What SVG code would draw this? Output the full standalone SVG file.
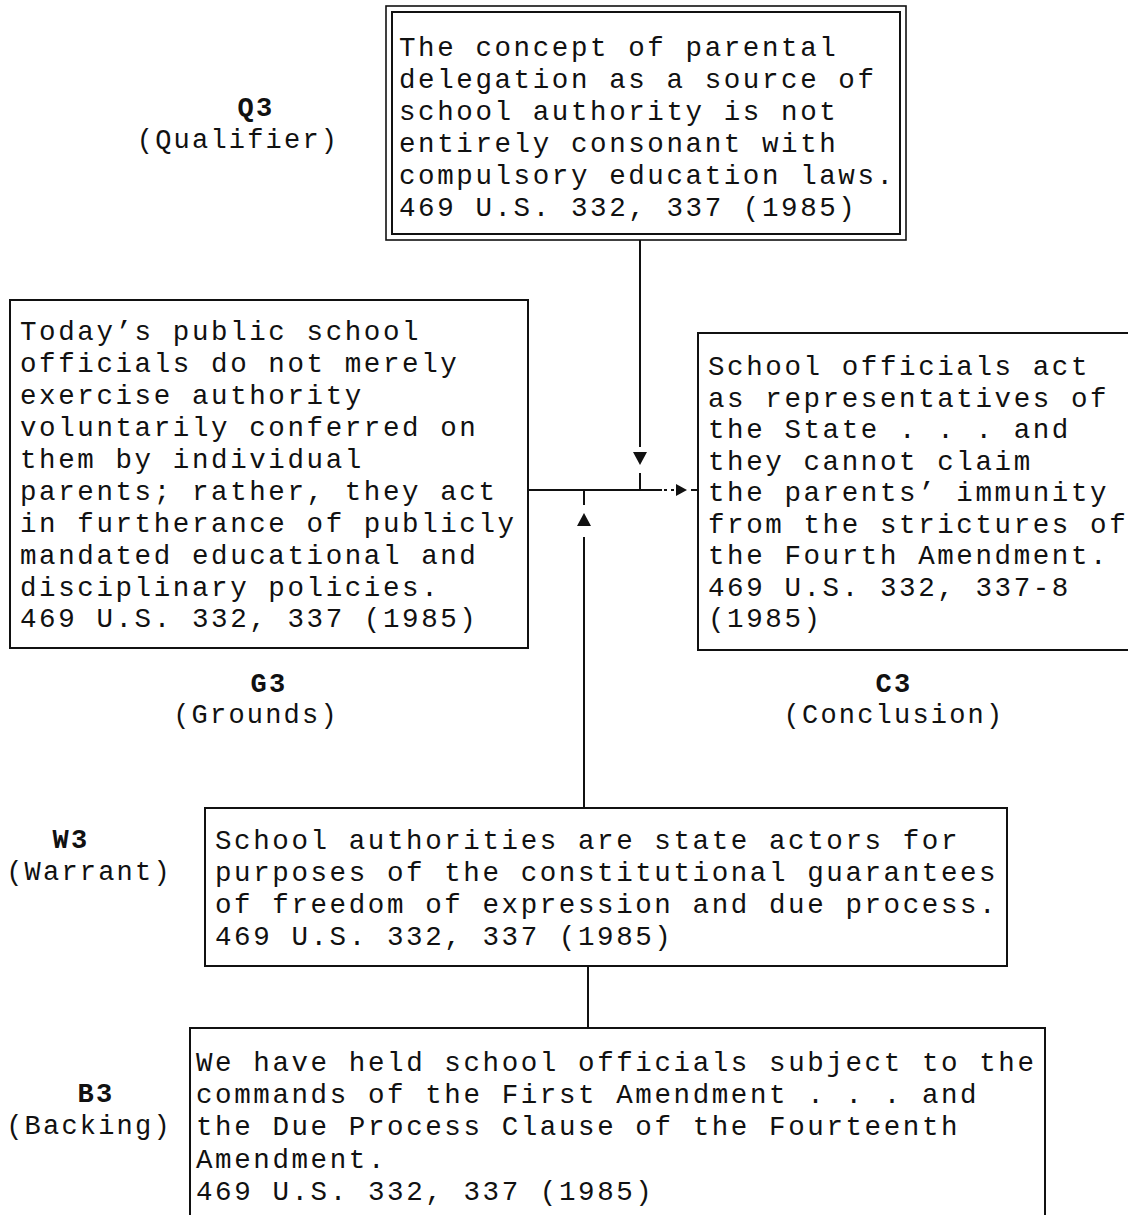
<svg xmlns="http://www.w3.org/2000/svg" width="1128" height="1215" viewBox="0 0 1128 1215">
  <style>
    .box { fill: #fff; stroke: #111; stroke-width: 2; }
    .box2 { fill: none; stroke: #111; stroke-width: 1.6; }
    .t { font-family: "Liberation Mono", "DejaVu Sans Mono", monospace; font-size: 27.5px; letter-spacing: 2.6px; fill: #111; }
    .lbl { font-family: "Liberation Mono", "DejaVu Sans Mono", monospace; font-size: 27px; letter-spacing: 2.2px; fill: #111; text-anchor: middle; }
    .b { font-weight: bold; }
    .ln { stroke: #111; stroke-width: 2; fill: none; }
    .dot { stroke: #111; stroke-width: 2; fill: none; stroke-dasharray: 3 4; }
    .ah { fill: #111; }
  </style>

  <!-- Qualifier -->
  <g id="q3">
    <rect class="box2" x="386" y="6" width="520" height="234"/>
    <rect class="box" x="392" y="12" width="508" height="222"/>
    <text class="t">
      <tspan x="399" y="56">The concept of parental</tspan>
      <tspan x="399" y="88">delegation as a source of</tspan>
      <tspan x="399" y="120">school authority is not</tspan>
      <tspan x="399" y="152">entirely consonant with</tspan>
      <tspan x="399" y="184">compulsory education laws.</tspan>
      <tspan x="399" y="216">469 U.S. 332, 337 (1985)</tspan>
    </text>
    <text class="lbl b" x="256" y="116">Q3</text>
    <text class="lbl" x="238" y="148">(Qualifier)</text>
  </g>

  <!-- Grounds -->
  <g id="g3">
    <rect class="box" x="10" y="300" width="518" height="348"/>
    <text class="t">
      <tspan x="20" y="340">Today’s public school</tspan>
      <tspan x="20" y="372">officials do not merely</tspan>
      <tspan x="20" y="404">exercise authority</tspan>
      <tspan x="20" y="436">voluntarily conferred on</tspan>
      <tspan x="20" y="468">them by individual</tspan>
      <tspan x="20" y="500">parents; rather, they act</tspan>
      <tspan x="20" y="532">in furtherance of publicly</tspan>
      <tspan x="20" y="564">mandated educational and</tspan>
      <tspan x="20" y="596">disciplinary policies.</tspan>
      <tspan x="20" y="627">469 U.S. 332, 337 (1985)</tspan>
    </text>
    <text class="lbl b" x="269" y="692">G3</text>
    <text class="lbl" x="256" y="723">(Grounds)</text>
  </g>

  <!-- Conclusion -->
  <g id="c3">
    <rect class="box" x="698" y="333" width="440" height="317"/>
    <text class="t">
      <tspan x="708" y="375">School officials act</tspan>
      <tspan x="708" y="407">as representatives of</tspan>
      <tspan x="708" y="438">the State . . . and</tspan>
      <tspan x="708" y="470">they cannot claim</tspan>
      <tspan x="708" y="501">the parents’ immunity</tspan>
      <tspan x="708" y="533">from the strictures of</tspan>
      <tspan x="708" y="564">the Fourth Amendment.</tspan>
      <tspan x="708" y="596">469 U.S. 332, 337-8</tspan>
      <tspan x="708" y="627">(1985)</tspan>
    </text>
    <text class="lbl b" x="894" y="692">C3</text>
    <text class="lbl" x="894" y="723">(Conclusion)</text>
  </g>

  <!-- Warrant -->
  <g id="w3">
    <rect class="box" x="205" y="808" width="802" height="158"/>
    <text class="t">
      <tspan x="215" y="849">School authorities are state actors for</tspan>
      <tspan x="215" y="881">purposes of the constitutional guarantees</tspan>
      <tspan x="215" y="913">of freedom of expression and due process.</tspan>
      <tspan x="215" y="945">469 U.S. 332, 337 (1985)</tspan>
    </text>
    <text class="lbl b" x="71" y="848">W3</text>
    <text class="lbl" x="89" y="880">(Warrant)</text>
  </g>

  <!-- Backing -->
  <g id="b3">
    <rect class="box" x="190" y="1028" width="855" height="200"/>
    <text class="t">
      <tspan x="196" y="1071">We have held school officials subject to the</tspan>
      <tspan x="196" y="1103">commands of the First Amendment . . . and</tspan>
      <tspan x="196" y="1135">the Due Process Clause of the Fourteenth</tspan>
      <tspan x="196" y="1168">Amendment.</tspan>
      <tspan x="196" y="1200">469 U.S. 332, 337 (1985)</tspan>
    </text>
    <text class="lbl b" x="96" y="1102">B3</text>
    <text class="lbl" x="89" y="1134">(Backing)</text>
  </g>

  <!-- Connectors -->
  <g id="connectors">
    <!-- qualifier down to the main line -->
    <line class="ln" x1="640" y1="240" x2="640" y2="447"/>
    <polygon class="ah" points="633,452 647,452 640,465"/>
    <line class="ln" x1="640" y1="473" x2="640" y2="490"/>
    <!-- grounds to conclusion -->
    <line class="ln" x1="528" y1="490" x2="662" y2="490"/>
    <line class="dot" x1="664" y1="490" x2="676" y2="490"/>
    <polygon class="ah" points="676,484 676,496 687,490"/>
    <line class="ln" x1="691" y1="490" x2="698" y2="490"/>
    <!-- warrant up to the main line -->
    <line class="ln" x1="584" y1="490" x2="584" y2="505"/>
    <polygon class="ah" points="577,526 591,526 584,513"/>
    <line class="ln" x1="584" y1="537" x2="584" y2="808"/>
    <!-- backing up to warrant -->
    <line class="ln" x1="588" y1="966" x2="588" y2="1028"/>
  </g>
</svg>
